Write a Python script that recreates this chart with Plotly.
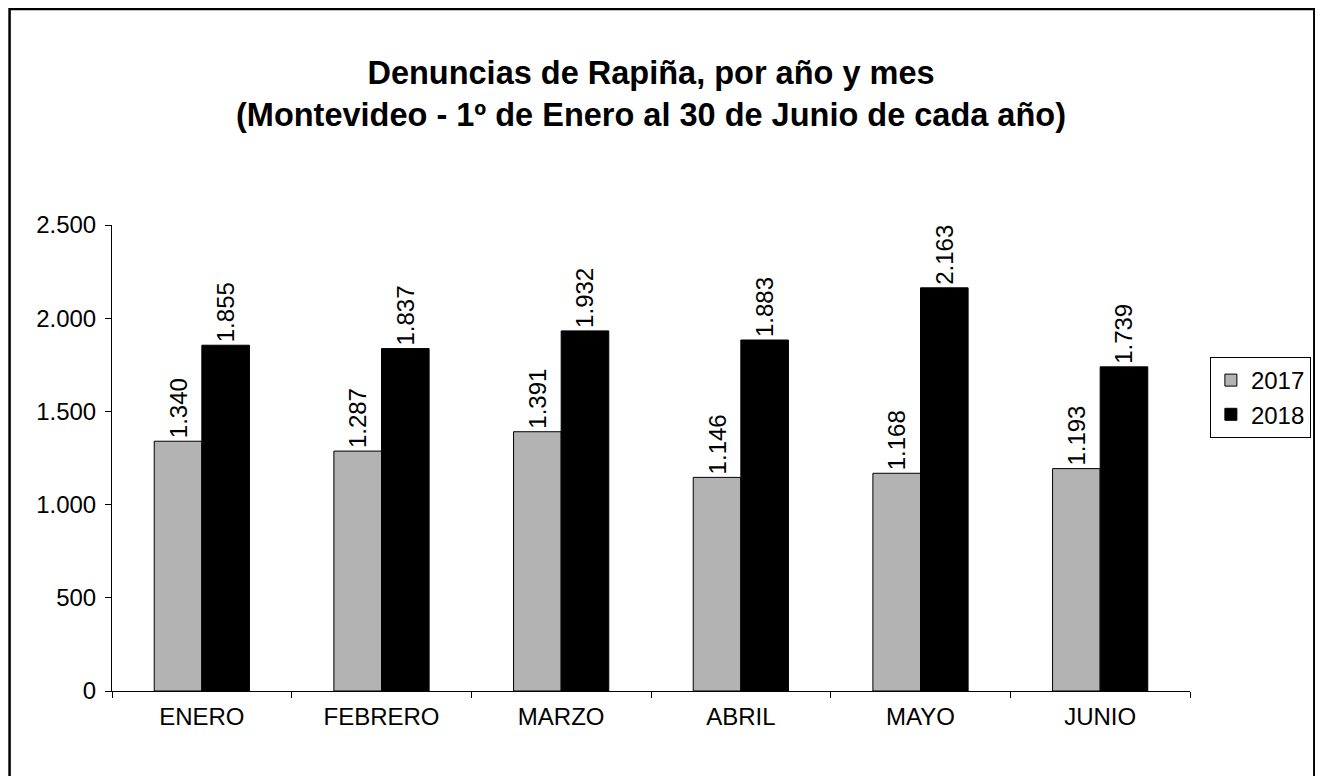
import plotly.graph_objects as go

months = ["ENERO", "FEBRERO", "MARZO", "ABRIL", "MAYO", "JUNIO"]
v2017 = [1340, 1287, 1391, 1146, 1168, 1193]
v2018 = [1855, 1837, 1932, 1883, 2163, 1739]
series_names = ["2017", "2018"]
series_colors = ["#B3B3B3", "#000000"]
title_lines = ["Denuncias de Rapiña, por año y mes",
               "(Montevideo - 1º de Enero al 30 de Junio de cada año)"]

FONT = "Liberation Sans, Arial, sans-serif"
# The page body adds an 8px margin, so the figure is 8px smaller than the window
W, H = 1315, 768
ml, mr, mt, mb = 104, 127, 217, 85
pw = W - ml - mr
ph = H - mt - mb

fig = go.Figure()
for name, vals, col in zip(series_names, [v2017, v2018], series_colors):
    fig.add_trace(go.Bar(
        x=months, y=vals, name=name,
        marker=dict(color=col, line=dict(color="#000000", width=1)),
        texttemplate="%{y:,}", textposition="outside", textangle=-90,
        constraintext="none",
        textfont=dict(family=FONT, size=24, color="#000000"),
        cliponaxis=False,
    ))

def px_x(px):
    return (px - ml) / pw

def px_y(py):
    return (H - mb - py) / ph

fig.update_layout(
    width=W, height=H,
    margin=dict(l=ml, r=mr, t=mt, b=mb),
    paper_bgcolor="white", plot_bgcolor="white",
    separators=",.",
    barmode="group", bargap=0.47, bargroupgap=0,
    font=dict(family=FONT, size=24, color="#000000"),
    title=dict(text="<b>" + "<br>".join(title_lines) + "</b>",
               x=0.5, xref="paper", xanchor="center",
               y=1 - 76 / H, yanchor="middle",
               font=dict(family=FONT, size=32.5, color="#000000")),
    xaxis=dict(showline=True, linecolor="#000000", linewidth=1,
               ticks="outside", ticklen=6, tickcolor="#000000",
               tickson="boundaries", showgrid=False, ticklabelstandoff=4,
               tickfont=dict(family=FONT, size=24, color="#000000")),
    yaxis=dict(range=[0, 2500], dtick=500, tickformat=",",
               showline=True, linecolor="#000000", linewidth=1,
               ticks="outside", ticklen=6, tickcolor="#000000",
               showgrid=False, zeroline=False, ticklabelstandoff=4,
               tickfont=dict(family=FONT, size=24, color="#000000")),
    legend=dict(x=px_x(1208), y=px_y(349), xanchor="left", yanchor="top",
                bordercolor="#000000", borderwidth=1, bgcolor="white",
                font=dict(family=FONT, size=24, color="#000000"),
                tracegroupgap=0, itemwidth=30),
    showlegend=True,
)

fig.add_shape(type="rect", xref="paper", yref="paper",
              x0=px_x(1), x1=px_x(1313), y0=px_y(790), y1=px_y(1),
              line=dict(color="#000000", width=2.5), fillcolor="rgba(0,0,0,0)",
              layer="below")

fig.write_html("out.html")
